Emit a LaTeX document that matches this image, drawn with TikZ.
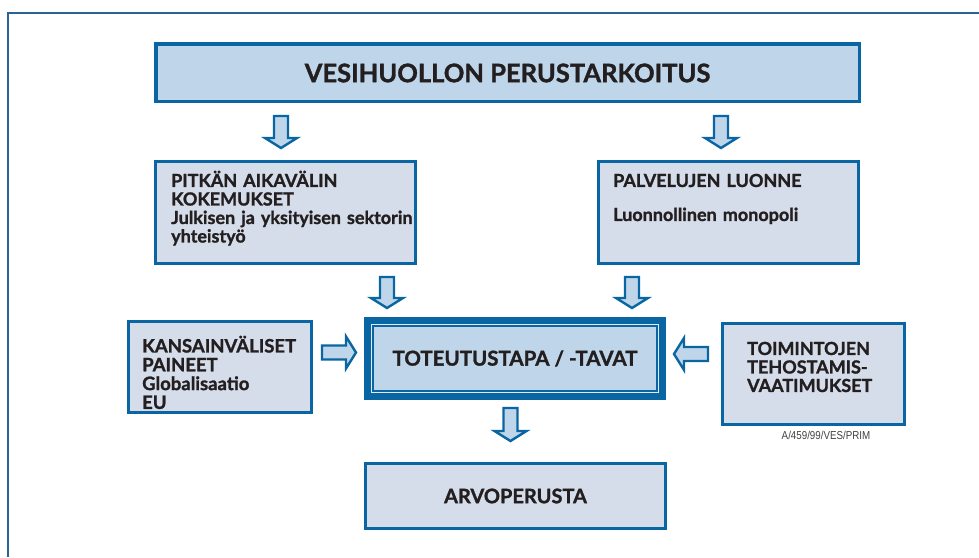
\documentclass[tikz,border=0pt]{standalone}
\usepackage{fontspec}
\setmainfont{Lato}[BoldFeatures={FakeBold=1.3}]
\setsansfont{Liberation Sans}
\usetikzlibrary{calc,positioning}

\definecolor{rimblue}{HTML}{0A66A2}
\definecolor{paleblue}{HTML}{BFD5E9}
\definecolor{greyblue}{HTML}{D6DDEA}
\definecolor{inkblack}{HTML}{231F20}
\definecolor{frameblue}{HTML}{2A6496}

\tikzset{
  mainbox/.style={draw=rimblue, fill=paleblue, line width=3.5pt, text=inkblack,
    font=\bfseries\fontsize{25.5}{28}\selectfont},
  sidebox/.style={draw=rimblue, fill=greyblue, line width=2.8pt},
  sidetext/.style={anchor=base west, inner sep=0pt, text width=260pt,
    align=left, text=inkblack},
  blockarr/.style={draw=rimblue, fill=paleblue, line width=2.4pt, line join=miter,
    to path={
      ($(\tikztostart)!7pt!90:(\tikztotarget)$)
      -- ($(\tikztotarget)!10pt!(\tikztostart)!7pt!90:(\tikztotarget)$)
      -- ($(\tikztotarget)!10pt!(\tikztostart)!16pt!90:(\tikztotarget)$)
      -- (\tikztotarget)
      -- ($(\tikztotarget)!10pt!(\tikztostart)!16pt!-90:(\tikztotarget)$)
      -- ($(\tikztotarget)!10pt!(\tikztostart)!7pt!-90:(\tikztotarget)$)
      -- ($(\tikztostart)!7pt!-90:(\tikztotarget)$) -- cycle}},
}

\begin{document}
\begin{tikzpicture}[x=1pt, y=1pt]
    \useasboundingbox (0,0) rectangle (979,557);
    \draw[frameblue, line width=1.3pt] (8,0) -- (8,544) -- (979,544);

    \node[mainbox, minimum width=703.5pt, minimum height=57.5pt]
        (purpose) at (507.5,484) {VESIHUOLLON PERUSTARKOITUS};

    \node[sidebox, minimum width=260.2pt, minimum height=102.2pt]
        (longterm) at (285.5,344.5) {};
    \node[sidetext, font=\bfseries\fontsize{18}{18.5}\selectfont]
        (longterm-t) at (171,370)
        {PITKÄN AIKAVÄLIN\\KOKEMUKSET\\Julkisen ja yksityisen sektorin\\yhteistyö};

    \node[sidebox, minimum width=260.2pt, minimum height=102.2pt]
        (services) at (728.5,344.5) {};
    \node[sidetext, font=\bfseries\fontsize{18}{17}\selectfont]
        (services-t) at (613,370)
        {PALVELUJEN LUONNE\\[17pt]Luonnollinen monopoli};

    \node[mainbox, line width=7pt, minimum width=295pt, minimum height=76pt,
        font=\bfseries\fontsize{20.5}{22}\selectfont]
        (method) at (515,198.5) {TOTEUTUSTAPA / -TAVAT};
    \draw[paleblue!50!white, line width=1pt]
        ([shift={(7.5,7.5)}]method.south west) rectangle ([shift={(-7.5,-7.5)}]method.north east);
    \draw[rimblue, line width=2pt]
        ([shift={(9,9)}]method.south west) rectangle ([shift={(-9,-9)}]method.north east);

    \node[sidebox, minimum width=183.2pt, minimum height=91.2pt]
        (intl) at (220,190) {};
    \node[sidetext, font=\bfseries\fontsize{18.5}{18.8}\selectfont]
        (intl-t) at (142,204.5)
        {KANSAINVÄLISET\\PAINEET\\Globalisaatio\\EU};

    \node[sidebox, minimum width=182.2pt, minimum height=101.2pt]
        (effic) at (813.5,183) {};
    \node[sidetext, font=\bfseries\fontsize{18}{18.5}\selectfont]
        (effic-t) at (747,202)
        {TOIMINTOJEN\\TEHOSTAMIS-\\VAATIMUKSET};

    \node[sidebox, minimum width=300.2pt, minimum height=65.2pt, text=inkblack,
        font=\bfseries\fontsize{20}{22}\selectfont]
        (values) at (515.5,61) {ARVOPERUSTA};

    \node[anchor=base, inner sep=0pt, text=black!75,
        font=\sffamily\fontsize{11.5}{12}\selectfont]
        (docref) at (826,118) {\scalebox{0.85}[1]{A/459/99/VES/PRIM}};

    % block arrows between the boxes
    \coordinate (a1s) at (281,441);   \coordinate (a1e) at (281,409);
    \coordinate (a2s) at (721,441);   \coordinate (a2e) at (721,409);
    \coordinate (a3s) at (387,280);   \coordinate (a3e) at (387,249);
    \coordinate (a4s) at (632,280);   \coordinate (a4e) at (632,249);
    \coordinate (a5s) at (322,204.5); \coordinate (a5e) at (356,204.5);
    \coordinate (a6s) at (708,203);   \coordinate (a6e) at (674,203);
    \coordinate (a7s) at (510.5,149); \coordinate (a7e) at (510.5,116);

    \draw[blockarr] (a1s) to (a1e);
    \draw[blockarr] (a2s) to (a2e);
    \draw[blockarr] (a3s) to (a3e);
    \draw[blockarr] (a4s) to (a4e);
    \draw[blockarr] (a5s) to (a5e);
    \draw[blockarr] (a6s) to (a6e);
    \draw[blockarr] (a7s) to (a7e);
\end{tikzpicture}
\end{document}
